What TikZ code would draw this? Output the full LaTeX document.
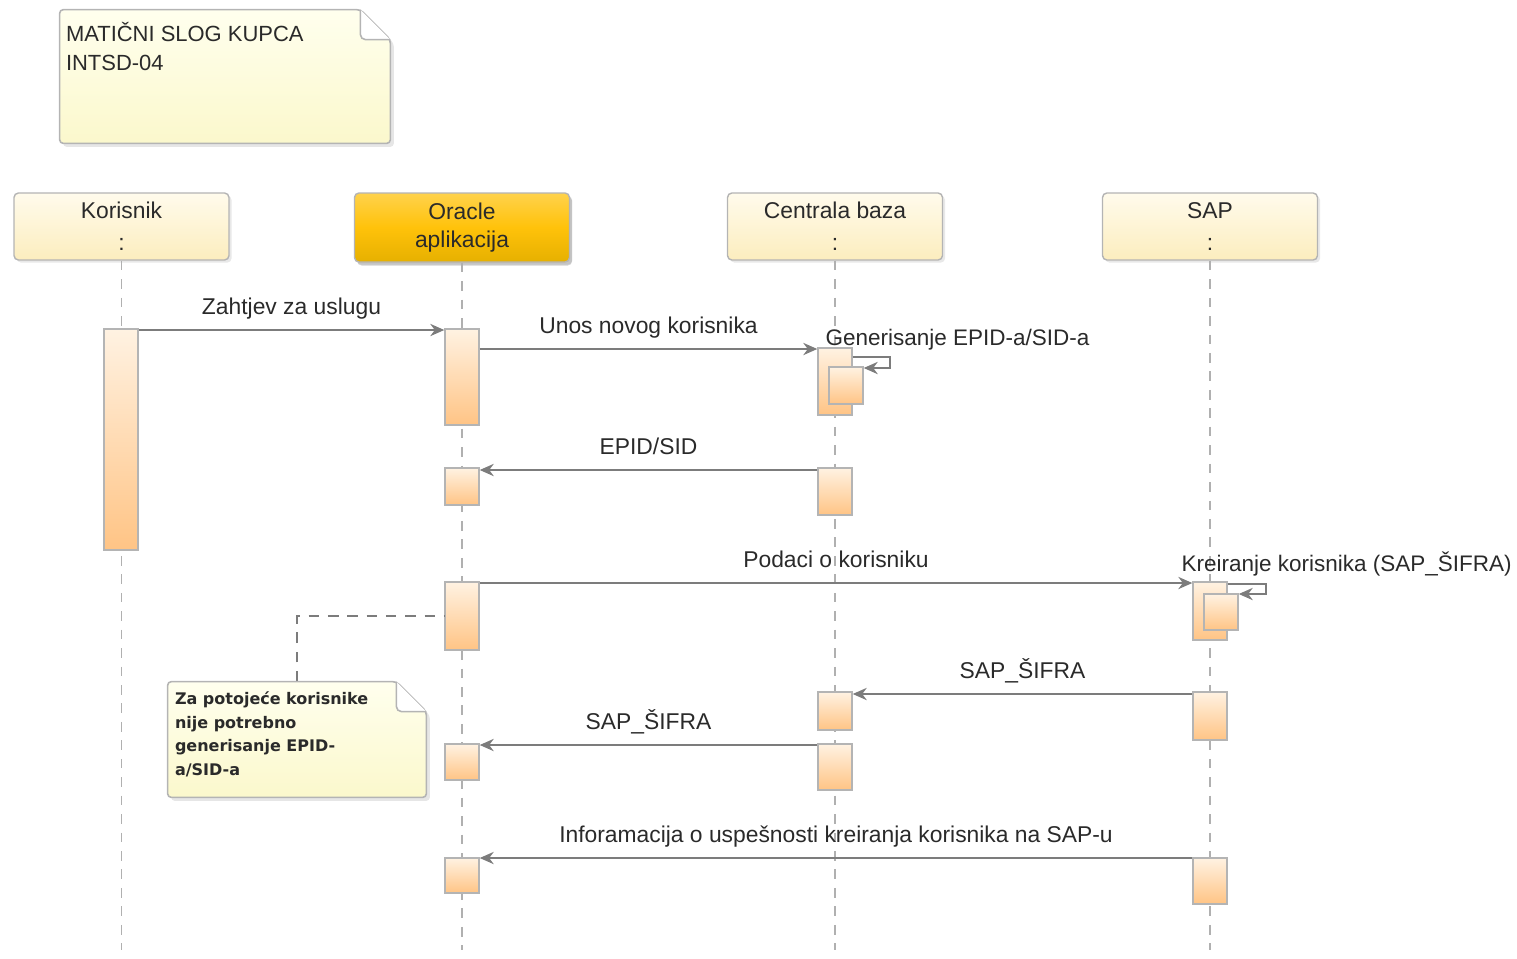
\documentclass[tikz,border=0pt]{standalone}
\usepackage{fontspec}
\setmainfont{Liberation Sans}
\newfontfamily\notefont{DejaVu Sans}
\usetikzlibrary{arrows.meta,positioning,shadows,calc}

\definecolor{txt}{HTML}{2A2A2A}
\definecolor{boxgray}{HTML}{B4B4B4}
\definecolor{msggray}{HTML}{7C7C7C}
\definecolor{lifegray}{HTML}{B0B0B0}
\definecolor{headtop}{HTML}{FFFBEC}
\definecolor{headbot}{HTML}{FCEDBE}
\definecolor{oratop}{HTML}{FFD24C}
\definecolor{oramid}{HTML}{FFC20A}
\definecolor{orabot}{HTML}{E6B000}
\definecolor{acttop}{HTML}{FFF2E2}
\definecolor{actbot}{HTML}{FFC485}
\definecolor{notetop}{HTML}{FFFFEE}
\definecolor{notebot}{HTML}{FBF8CC}

\tikzset{
  head/.style={draw=boxgray, line width=0.8pt, rounded corners=2.5pt,
    top color=headtop, bottom color=headbot, minimum width=4.3cm,
    minimum height=1.34cm, align=center, text=txt,
    font=\fontsize{13}{16}\selectfont,
    drop shadow={opacity=0.18, shadow xshift=1.5pt, shadow yshift=-1.5pt}},
  mainhead/.style={head, top color=oratop, bottom color=orabot, middle color=oramid,
    drop shadow={opacity=0.35, shadow xshift=1.5pt, shadow yshift=-2pt}},
  act/.style={draw=boxgray, line width=0.8pt, top color=acttop, bottom color=actbot,
    minimum width=0.68cm, inner sep=0pt},
  lifeline/.style={draw=lifegray, line width=1.1pt, dash pattern=on 5.5pt off 5pt},
  msg/.style={draw=msggray, line width=0.9pt, -{Stealth[length=8pt,width=7pt]}},
  msglabel/.style={anchor=base, yshift=9pt, inner sep=0pt, text=txt,
    font=\fontsize{13}{16}\selectfont},
  notebody/.style={draw=boxgray, line width=0.9pt, rounded corners=2pt,
    top color=notetop, bottom color=notebot,
    drop shadow={opacity=0.2, shadow xshift=2pt, shadow yshift=-2pt}},
  notefold/.style={draw=boxgray, line width=0.9pt, rounded corners=3pt, fill=white},
  notelink/.style={draw=msggray, line width=0.9pt, dash pattern=on 6pt off 5pt}
}

\begin{document}
\begin{tikzpicture}[x=0.02cm, y=-0.02cm]
  \useasboundingbox (0,0) rectangle (1517,958);

  \node[minimum width=6.6cm, minimum height=2.66cm] (n1) at (225,76.5) {};
  \draw[notebody] (n1.north west) -- ($(n1.north east)+(-30,0)$)
    -- ($(n1.north east)+(0,30)$) -- (n1.south east) -- (n1.south west) -- cycle;
  \draw[notefold] ($(n1.north east)+(-30,0)$) |- ($(n1.north east)+(0,30)$);
  \node[anchor=north west, inner sep=0pt, align=left, text=txt,
    font=\fontsize{12.5}{16.4}\selectfont] (n1t) at ($(n1.north west)+(6,12)$)
    {MATIČNI SLOG KUPCA\\INTSD-04};

  \node[head] (kor) at (121.5,226.5) {Korisnik\\[2pt]:};
  \node[mainhead, minimum height=1.38cm] (ora) at (462,227.5) {Oracle\\aplikacija};
  \node[head] (cen) at (835,226.5) {Centrala baza\\[2pt]:};
  \node[head] (sap) at (1210,226.5) {SAP\\[2pt]:};

  \draw[lifeline] (kor.south) -- (kor.south |- 0,950);
  \draw[lifeline] (ora.south) -- (ora.south |- 0,950);
  \draw[lifeline] (cen.south) -- (cen.south |- 0,950);
  \draw[lifeline] (sap.south) -- (sap.south |- 0,950);

  \node[act, minimum height=4.42cm] (k1) at (121,439.5) {};
  \node[act, minimum height=1.92cm] (o1) at (462,377) {};
  \node[act, minimum height=1.34cm] (c1) at (835,381.5) {};
  \node[act, minimum height=0.74cm] (c1b) at (846,385.5) {};
  \node[act, minimum height=0.74cm] (o2) at (462,486.5) {};
  \node[act, minimum height=0.94cm] (c2) at (835,491.5) {};
  \node[act, minimum height=1.36cm] (o3) at (462,616) {};
  \node[act, minimum height=1.16cm] (s1) at (1210,611) {};
  \node[act, minimum height=0.72cm] (s1b) at (1221,612) {};
  \node[act, minimum height=0.76cm] (c3) at (835,711) {};
  \node[act, minimum height=0.96cm] (s2) at (1210,716) {};
  \node[act, minimum height=0.72cm] (o4) at (462,762) {};
  \node[act, minimum height=0.92cm] (c4) at (835,767) {};
  \node[act, minimum height=0.70cm] (o5) at (462,875.5) {};
  \node[act, minimum height=0.92cm] (s3) at (1210,881) {};

  \draw[msg] (k1.east |- 0,330) -- node[msglabel] {Zahtjev za uslugu} (o1.west |- 0,330);
  \draw[msg] (o1.east |- 0,349) -- node[msglabel] {Unos novog korisnika} (c1.west |- 0,349);
  \draw[msg] (c1.east |- 0,357) -- ++(37,0) |- (c1b.east |- 0,368);
  \node[anchor=base west, inner sep=0pt, text=txt, font=\fontsize{12.8}{16}\selectfont]
    (gen) at ($(c1.north west)+(8,-2)$) {Generisanje EPID-a/SID-a};
  \draw[msg] (c2.west |- 0,470) -- node[msglabel] {EPID/SID} (o2.east |- 0,470);
  \draw[msg] (o3.east |- 0,583) -- node[msglabel] {Podaci o korisniku} (s1.west |- 0,583);
  \draw[msg] (s1.east |- 0,584) -- ++(38,0) |- (s1b.east |- 0,594);
  \node[anchor=base west, inner sep=0pt, text=txt, font=\fontsize{12.8}{16}\selectfont]
    (kre) at ($(s1.north west)+(-11,-10)$) {Kreiranje korisnika (SAP\_ŠIFRA)};
  \draw[msg] (s2.west |- 0,694) -- node[msglabel] {SAP\_ŠIFRA} (c3.east |- 0,694);
  \draw[msg] (c4.west |- 0,745) -- node[msglabel] {SAP\_ŠIFRA} (o4.east |- 0,745);
  \draw[msg] (s3.west |- 0,858) -- node[msglabel]
    {Inforamacija o uspešnosti kreiranja korisnika na SAP-u} (o5.east |- 0,858);

  \node[minimum width=5.16cm, minimum height=2.3cm] (n2) at (297,739.5) {};
  \draw[notelink] (n2.north) |- (o3.west);
  \draw[notebody] (n2.north west) -- ($(n2.north east)+(-30,0)$)
    -- ($(n2.north east)+(0,30)$) -- (n2.south east) -- (n2.south west) -- cycle;
  \draw[notefold] ($(n2.north east)+(-30,0)$) |- ($(n2.north east)+(0,30)$);
  \node[anchor=north west, inner sep=0pt, align=left, text=txt,
    font=\notefont\bfseries\fontsize{9.1}{13.4}\selectfont] (n2t)
    at ($(n2.north west)+(7,10)$)
    {Za potojeće korisnike\\nije potrebno\\generisanje EPID-\\a/SID-a};
\end{tikzpicture}
\end{document}
